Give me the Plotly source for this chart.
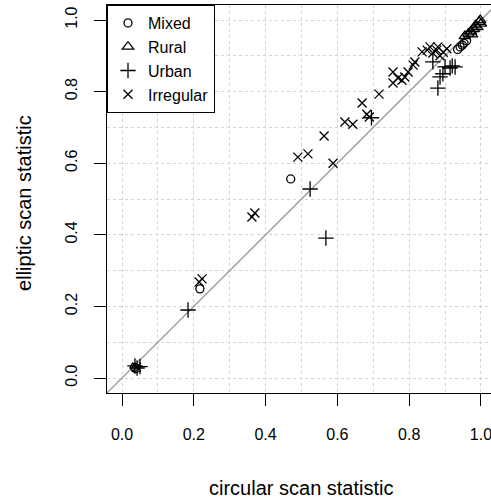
import plotly.graph_objects as go

# ---- data ----
mixed_x = [0.035, 0.038, 0.217, 0.470, 0.935, 0.942, 0.948, 0.953, 0.960]
mixed_y = [0.030, 0.026, 0.249, 0.556, 0.918, 0.925, 0.930, 0.935, 0.942]

rural_x = [0.955, 0.965, 0.972, 0.975, 0.980, 0.985, 0.990, 0.995, 0.998, 1.000]
rural_y = [0.955, 0.962, 0.968, 0.960, 0.975, 0.985, 0.980, 0.995, 1.000, 0.990]

urban_x = [0.036, 0.050, 0.042, 0.184, 0.524, 0.568, 0.695, 0.866, 0.880,
           0.886, 0.894, 0.900, 0.914, 0.920, 0.928]
urban_y = [0.034, 0.032, 0.028, 0.190, 0.528, 0.391, 0.727, 0.883, 0.810,
           0.841, 0.850, 0.869, 0.866, 0.872, 0.869]

irr_x = [0.040, 0.215, 0.223, 0.362, 0.370, 0.490, 0.518, 0.588, 0.563,
         0.621, 0.643, 0.669, 0.682, 0.689, 0.716, 0.755, 0.755, 0.769,
         0.780, 0.788, 0.797, 0.811, 0.816, 0.836, 0.850, 0.858, 0.866,
         0.877, 0.880, 0.886, 0.895, 0.905]
irr_y = [0.030, 0.268, 0.277, 0.450, 0.461, 0.617, 0.626, 0.600, 0.676,
         0.715, 0.709, 0.768, 0.737, 0.729, 0.793, 0.855, 0.824, 0.838,
         0.832, 0.841, 0.855, 0.874, 0.883, 0.911, 0.916, 0.925, 0.908,
         0.916, 0.925, 0.900, 0.910, 0.920]

series_names = ["Mixed", "Rural", "Urban", "Irregular"]
diag = [-0.1, 1.1]

FONT = "Liberation Sans, Arial, Helvetica, sans-serif"

fig = go.Figure()

# identity line
fig.add_trace(go.Scatter(x=diag, y=diag, mode="lines",
                         line=dict(color="#9a9a9a", width=1.3),
                         showlegend=False, hoverinfo="skip"))

specs = [
    (mixed_x, mixed_y, "circle-open", 8),
    (rural_x, rural_y, "triangle-up-open", 10),
    (urban_x, urban_y, "cross-thin-open", 11),
    (irr_x, irr_y, "x-thin-open", 9),
]
for name, (xs, ys, sym, sz) in zip(series_names, specs):
    fig.add_trace(go.Scatter(
        x=xs, y=ys, mode="markers", name=name,
        marker=dict(symbol=sym, size=sz, color="black",
                    line=dict(color="black", width=1.3)),
    ))

grid = dict(showgrid=True, gridcolor="#d3d3d3", gridwidth=1, griddash="dot")

fig.update_xaxes(
    range=[-0.0418, 1.028], tickmode="linear", tick0=0, dtick=0.2,
    tickformat=".1f", ticks="outside", ticklen=12, tickcolor="black",
    tickwidth=1, showline=True, linecolor="black", linewidth=1.3,
    mirror=True, zeroline=False, ticklabelstandoff=15, automargin=False,
    ticklabeloverflow="allow",
    tickfont=dict(size=16, color="black", family=FONT),
    minor=dict(dtick=0.1, tick0=0, ticks="", **grid), **grid,
)
fig.update_yaxes(
    range=[-0.0419, 1.042], tickmode="linear", tick0=0, dtick=0.2,
    tickformat=".1f", ticks="outside", ticklen=12, tickcolor="black",
    tickwidth=1, showline=True, linecolor="black", linewidth=1.3,
    mirror=False, zeroline=False, tickangle=-90, ticklabelstandoff=10,
    automargin=False, ticklabeloverflow="allow",
    tickfont=dict(size=16, color="black", family=FONT),
    minor=dict(dtick=0.1, tick0=0, ticks="", **grid), **grid,
)

fig.add_annotation(text="circular scan statistic", xref="x", yref="paper",
                   x=0.5, y=-0.245, showarrow=False, xanchor="center",
                   yanchor="middle", font=dict(size=20, color="black", family=FONT))
fig.add_annotation(text="elliptic scan statistic", xref="paper", yref="paper",
                   x=-0.216, y=0.49, showarrow=False, textangle=-90,
                   xanchor="center", yanchor="middle",
                   font=dict(size=20, color="black", family=FONT))

fig.update_layout(
    width=491, height=500,
    margin=dict(l=107, r=0, t=5, b=107, autoexpand=False),
    paper_bgcolor="white", plot_bgcolor="white",
    font=dict(family=FONT, color="black"),
    legend=dict(x=0, y=1, xanchor="left", yanchor="top",
                bgcolor="white", bordercolor="black", borderwidth=1,
                font=dict(size=16, color="black", family=FONT),
                tracegroupgap=0, itemwidth=30),
)

fig.write_html("out.html", config={"displayModeBar": False},
               post_script="document.body.style.margin='0';"
                           "document.body.style.padding='0';")
